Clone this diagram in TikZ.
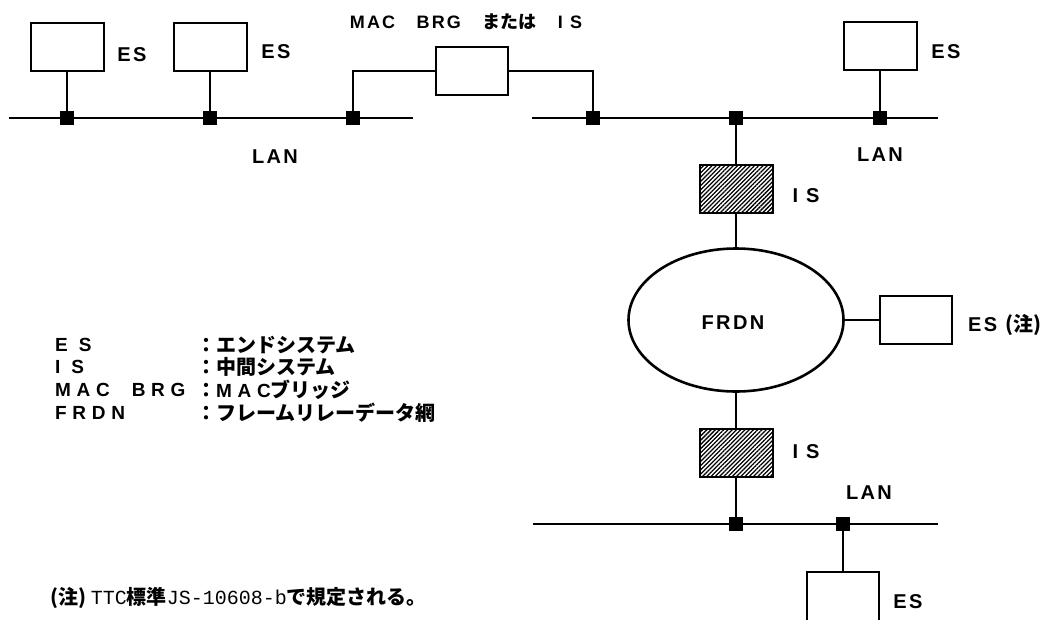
\documentclass[tikz,border=0pt]{standalone}
\usepackage{fontspec}
\setmainfont{Liberation Sans}
\newfontfamily\lblfont[LetterSpace=12]{Liberation Sans Bold}
\newfontfamily\legfont[LetterSpace=30]{Liberation Sans Bold}
\newfontfamily\jpfont{Noto Sans CJK JP}
\newfontfamily\notemono{Liberation Mono}
\usetikzlibrary{shapes.geometric,patterns.meta}
\tikzset{
    box/.style={draw,line width=2pt,minimum width=73pt,minimum height=48pt,inner sep=0pt},
    hatchbox/.style={box,pattern={Lines[angle=45,distance=3pt,line width=1.3pt]}},
    tap/.style={fill=black,minimum size=14pt,inner sep=0pt},
    lan/.style={line width=2.2pt},
    link/.style={line width=2pt},
    lbl/.style={font=\lblfont\fontsize{20}{20}\selectfont,inner sep=0pt},
    leg/.style={font=\legfont\fontsize{19}{19}\selectfont,inner sep=0pt,anchor=west},
    jp/.style={font=\jpfont\bfseries\fontsize{20}{20}\selectfont,inner sep=0pt,anchor=west}
}
\begin{document}
\begin{tikzpicture}[x=1pt,y=-1pt]
                \useasboundingbox (0,0) rectangle (1044,619);
                % upper left LAN
                \coordinate (lanAw) at (9,118);
                \coordinate (lanAe) at (413,118);
                \draw[lan] (lanAw)--(lanAe);
                \node[box] (esA) at (67,47) {};
                \node[box] (esB) at (210,47) {};
                \node[tap] (tA) at (67,118) {};
                \node[tap] (tB) at (210,118) {};
                \node[tap] (tC) at (353,118) {};
                \draw[link] (esA.south)--(tA);
                \draw[link] (esB.south)--(tB);
                \node[lbl] at (132,55) {ES};
                \node[lbl] at (276,52) {ES};
                \node[lbl] at (275,157) {LAN};
                % bridge
                \node[box,minimum width=72pt] (brg) at (472,71) {};
                \node[tap] (tD) at (593,118) {};
                \draw[link] (tC) |- (brg.west);
                \draw[link] (brg.east) -| (tD);
                \node[inner sep=0pt,font=\lblfont\fontsize{18}{18}\selectfont] at (466,22)
                    {MAC\ \ \ BRG\ \ \ {\jpfont\bfseries または}\ \ \ I S};
                % upper right LAN
                \coordinate (lanBw) at (532,118);
                \coordinate (lanBe) at (938,118);
                \draw[lan] (lanBw)--(lanBe);
                \node[tap] (tE) at (736,118) {};
                \node[tap] (tF) at (880,118) {};
                \node[box] (esC) at (880,46) {};
                \draw[link] (esC.south)--(tF);
                \node[lbl] at (946,52) {ES};
                \node[lbl] at (880,155) {LAN};
                % frame relay network
                \node[hatchbox] (isA) at (736,189) {};
                \node[draw,ellipse,line width=2.6pt,minimum width=215pt,minimum height=143pt,inner sep=0pt] (frdn) at (736,320) {};
                \node[lbl] at (733,323) {FRDN};
                \node[box,minimum width=72pt] (esD) at (916,320) {};
                \node[hatchbox] (isB) at (736,452.5) {};
                \draw[link] (tE)--(isA.north);
                \draw[link] (isA.south)--(frdn.north);
                \draw[link] (frdn.east)--(esD.west);
                \draw[link] (frdn.south)--(isB.north);
                \node[lbl] at (806,196) {I S};
                \node[lbl] at (806,452) {I S};
                \node[lbl,anchor=west] at (968,325) {ES {\jpfont\bfseries (注)}};
                % lower LAN
                \coordinate (lanCw) at (533,524);
                \coordinate (lanCe) at (938,524);
                \draw[lan] (lanCw)--(lanCe);
                \node[tap] (tG) at (736,524) {};
                \node[tap] (tH) at (843,524) {};
                \node[box,minimum width=72pt,minimum height=52pt] (esE) at (843,598) {};
                \draw[link] (isB.south)--(tG);
                \draw[link] (tH)--(esE.north);
                \node[lbl] at (869,493) {LAN};
                \node[lbl] at (908,602) {ES};
                % legend
                \node[leg] at (55,345) {E S};
                \node[leg] at (55,367) {I S};
                \node[leg] at (55,390) {MAC\ \ BRG};
                \node[leg] at (55,413) {FRDN};
                \foreach \y/\txt in {345/エンドシステム,367/中間システム,390/{\legfont\fontsize{19}{19}\selectfont MAC}ブリッジ,413/フレームリレーデータ網}
                    {\node[jp] at (196,\y) {：\txt};}
                % note
                \node[jp] at (50,598) {(注) {\notemono\mdseries TTC}標準{\notemono\mdseries JS-10608-b}で規定される。};
            \end{tikzpicture}
\end{document}
